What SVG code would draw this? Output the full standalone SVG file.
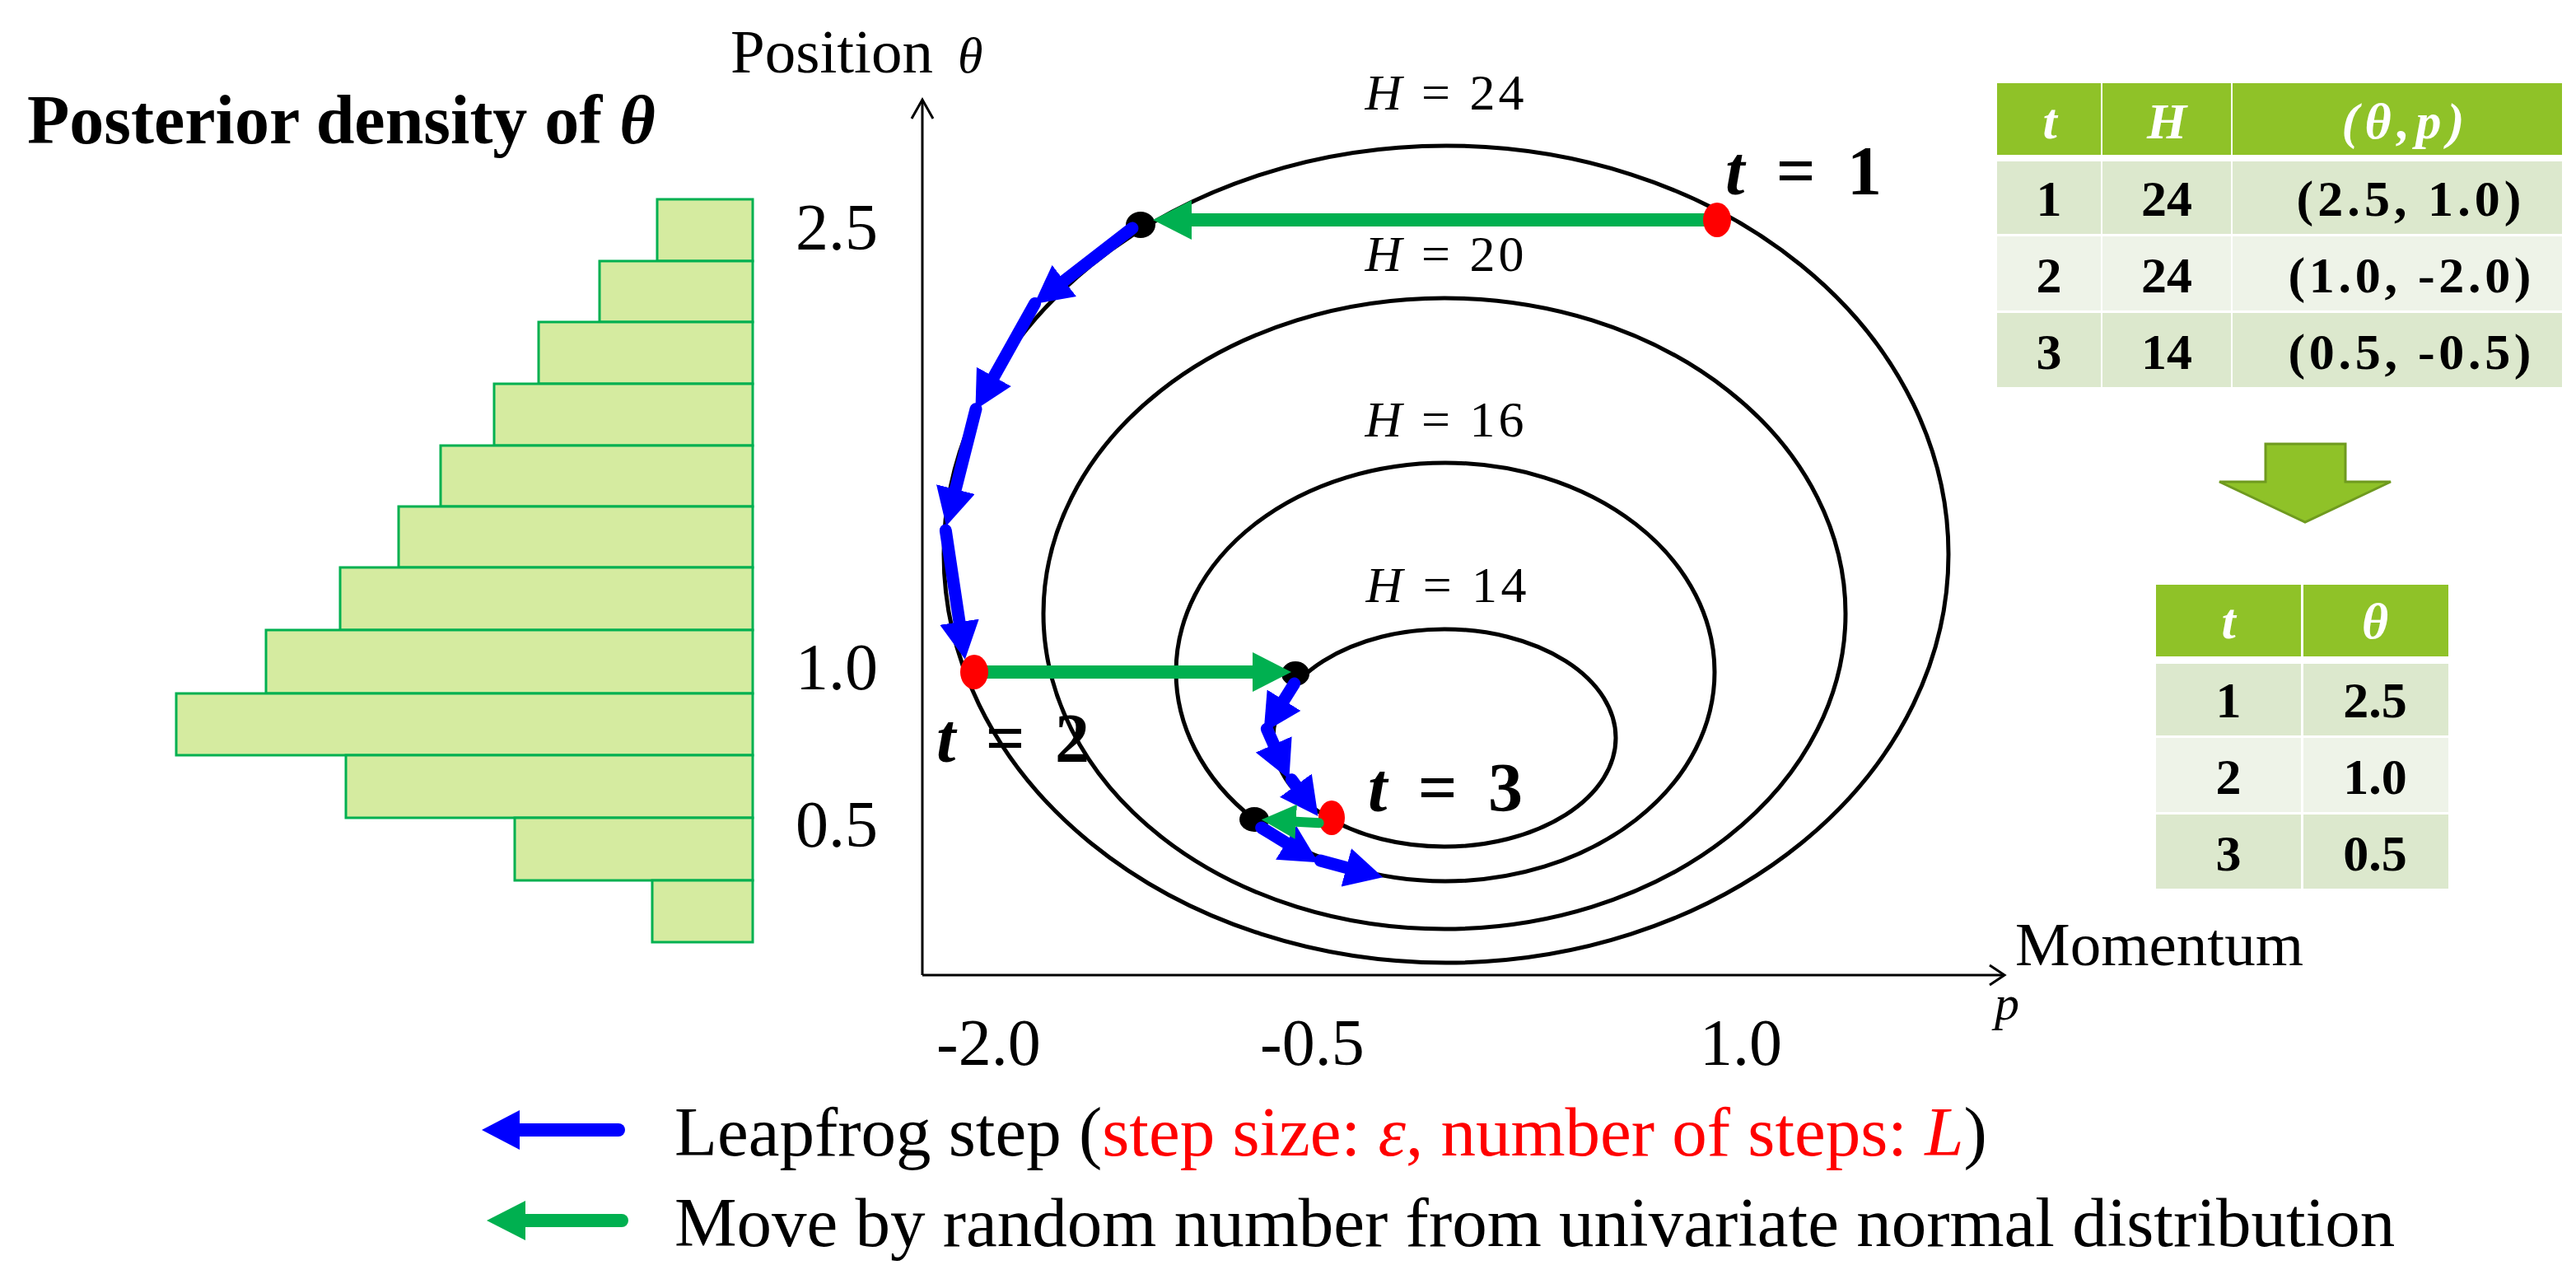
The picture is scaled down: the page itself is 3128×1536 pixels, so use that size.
<svg xmlns="http://www.w3.org/2000/svg" width="3128" height="1536" viewBox="0 0 3128 1536">
<style>
.serif{font-family:"Liberation Serif","Times New Roman",serif;}
.bar{fill:#D5EBA0;stroke:#00B050;stroke-width:3;}
.contour{fill:none;stroke:#000;stroke-width:5;}
.axis{fill:none;stroke:#000;stroke-width:3;}
.tick{font-family:"Liberation Serif",serif;font-size:80px;fill:#000;}
.hlab{font-family:"Liberation Serif",serif;font-size:62px;fill:#000;text-anchor:middle;}
.tlab{font-family:"Liberation Serif",serif;font-size:84px;font-weight:bold;fill:#000;}
.blue{fill:none;stroke:#0000FF;stroke-width:15;stroke-linecap:round;marker-end:url(#headBlue);}
.green{fill:none;stroke:#00B050;stroke-width:16;marker-end:url(#headGreen);}
.hdr{fill:#8FC228;}
.rowA{fill:#DCE8CD;}
.rowB{fill:#EEF3E8;}
.htext{font-family:"Liberation Serif",serif;font-size:62px;font-weight:bold;font-style:italic;fill:#fff;text-anchor:middle;}
.dtext{font-family:"Liberation Serif",serif;font-size:62px;font-weight:bold;fill:#000;text-anchor:middle;}
.legend{font-family:"Liberation Serif",serif;font-size:85px;fill:#000;}
</style>
<defs>
<marker id="headBlue" markerUnits="userSpaceOnUse" markerWidth="46" markerHeight="48" viewBox="0 0 46 48" refX="0" refY="24" orient="auto"><path d="M0,0 L46,24 L0,48 z" fill="#0000FF"/></marker>
<marker id="headGreen" markerUnits="userSpaceOnUse" markerWidth="47" markerHeight="48" viewBox="0 0 47 48" refX="0" refY="24" orient="auto"><path d="M0,0 L47,24 L0,48 z" fill="#00B050"/></marker>
<marker id="headGreenSmall" markerUnits="userSpaceOnUse" markerWidth="42" markerHeight="42" viewBox="0 0 42 42" refX="0" refY="21" orient="auto"><path d="M0,0 L42,21 L0,42 z" fill="#00B050"/></marker>
</defs>
<rect width="3128" height="1536" fill="#fff"/>

<g id="title">
<text class="serif" x="33" y="174" font-size="84" font-weight="bold">Posterior density of <tspan font-style="italic">θ</tspan></text>
</g>

<g id="histogram">
<rect class="bar" x="798" y="242" width="116" height="75"/>
<rect class="bar" x="728" y="317" width="186" height="74"/>
<rect class="bar" x="654" y="391" width="260" height="75"/>
<rect class="bar" x="600" y="466" width="314" height="75"/>
<rect class="bar" x="535" y="541" width="379" height="74"/>
<rect class="bar" x="484" y="615" width="430" height="74"/>
<rect class="bar" x="413" y="689" width="501" height="76"/>
<rect class="bar" x="323" y="765" width="591" height="77"/>
<rect class="bar" x="214" y="842" width="700" height="75"/>
<rect class="bar" x="420" y="917" width="494" height="76"/>
<rect class="bar" x="625" y="993" width="289" height="76"/>
<rect class="bar" x="792" y="1069" width="122" height="75"/>
</g>

<g id="axes">
<path class="axis" d="M1120,1184 L1120,121"/>
<path class="axis" d="M1107,144 L1120,121 L1133,144"/>
<path class="axis" d="M1120,1184 L2434,1184"/>
<path class="axis" d="M2416,1172 L2434,1184 L2416,1196"/>
<text class="serif" x="887" y="88" font-size="75">Position</text>
<text class="serif" x="1163" y="88" font-size="62" font-style="italic">θ</text>
<text class="serif" x="2447" y="1172" font-size="75">Momentum</text>
<text class="serif" x="2422" y="1238" font-size="60" font-style="italic">p</text>
<text class="tick" x="966" y="303">2.5</text>
<text class="tick" x="966" y="837">1.0</text>
<text class="tick" x="966" y="1028">0.5</text>
<text class="tick" x="1137" y="1293">-2.0</text>
<text class="tick" x="1530" y="1293">-0.5</text>
<text class="tick" x="2064" y="1293">1.0</text>
</g>

<g id="contours">
<ellipse class="contour" cx="1756" cy="673" rx="610" ry="496"/>
<ellipse class="contour" cx="1754" cy="745" rx="487" ry="383"/>
<ellipse class="contour" cx="1755" cy="816" rx="327" ry="254"/>
<ellipse class="contour" cx="1754" cy="896" rx="208" ry="132"/>
<text class="hlab" x="1754" y="133" textLength="193" lengthAdjust="spacing"><tspan font-style="italic">H</tspan> = 24</text>
<text class="hlab" x="1754" y="329" textLength="193" lengthAdjust="spacing"><tspan font-style="italic">H</tspan> = 20</text>
<text class="hlab" x="1754" y="530" textLength="193" lengthAdjust="spacing"><tspan font-style="italic">H</tspan> = 16</text>
<text class="hlab" x="1756" y="731" textLength="195" lengthAdjust="spacing"><tspan font-style="italic">H</tspan> = 14</text>
</g>

<g id="black-dots">
<ellipse cx="1385" cy="273" rx="18" ry="16" fill="#000"/>
<ellipse cx="1573" cy="818" rx="17" ry="15" fill="#000"/>
<ellipse cx="1523" cy="995" rx="18" ry="15" fill="#000"/>
</g>

<g id="connectors">
<path class="green" d="M2085,267 L1447,267"/>
<path class="green" d="M1183,816 L1521,816"/>
<path class="blue" d="M1375,277 L1292.3,340.9"/>
<path class="blue" d="M1256.7,368.4 L1206.9,457.4"/>
<path class="blue" d="M1185,496.7 L1160.3,594.1"/>
<path class="blue" d="M1148.3,644 L1165,755.2"/>
<path class="blue" d="M1571.7,830 L1559,850.2"/>
<path class="blue" d="M1538.3,885 L1546.7,903.9"/>
<path class="blue" d="M1568.3,946.7 L1573.4,953.7"/>
<path class="blue" d="M1531.7,1005 L1561.6,1023.3"/>
<path class="blue" d="M1603.3,1045 L1634.8,1053.4"/>
</g>

<g id="red-dots">
<ellipse cx="2085" cy="267" rx="17" ry="21" fill="#FF0000"/>
<ellipse cx="1183" cy="816" rx="17" ry="21" fill="#FF0000"/>
<ellipse cx="1617" cy="993" rx="16" ry="21" fill="#FF0000"/>
</g>
<g id="connector-t3">
<path d="M1601.7,999.3 L1573.7,997.7" fill="none" stroke="#00B050" stroke-width="12" stroke-linecap="round" marker-end="url(#headGreenSmall)"/>
</g>

<g id="t-labels">
<text class="tlab" x="2095" y="236" textLength="190" lengthAdjust="spacing"><tspan font-style="italic">t</tspan> = 1</text>
<text class="tlab" x="1137" y="925" textLength="186" lengthAdjust="spacing"><tspan font-style="italic">t</tspan> = 2</text>
<text class="tlab" x="1661" y="985" textLength="188" lengthAdjust="spacing"><tspan font-style="italic">t</tspan> = 3</text>
</g>

<g id="table1">
<rect class="hdr" x="2425" y="101" width="126" height="87"/>
<rect class="hdr" x="2553" y="101" width="156" height="87"/>
<rect class="hdr" x="2711" y="101" width="400" height="87"/>
<rect class="rowA" x="2425" y="196" width="126" height="88"/>
<rect class="rowA" x="2553" y="196" width="156" height="88"/>
<rect class="rowA" x="2711" y="196" width="400" height="88"/>
<rect class="rowB" x="2425" y="287" width="126" height="90"/>
<rect class="rowB" x="2553" y="287" width="156" height="90"/>
<rect class="rowB" x="2711" y="287" width="400" height="90"/>
<rect class="rowA" x="2425" y="380" width="126" height="90"/>
<rect class="rowA" x="2553" y="380" width="156" height="90"/>
<rect class="rowA" x="2711" y="380" width="400" height="90"/>
<text class="htext" x="2489" y="168">t</text>
<text class="htext" x="2631" y="168">H</text>
<text class="htext" x="2918" y="168" textLength="149" lengthAdjust="spacing">(θ,p)</text>
<text class="dtext" x="2488" y="262">1</text>
<text class="dtext" x="2631" y="262">24</text>
<text class="dtext" x="2925" y="262" textLength="273" lengthAdjust="spacing">(2.5,  1.0)</text>
<text class="dtext" x="2488" y="355">2</text>
<text class="dtext" x="2631" y="355">24</text>
<text class="dtext" x="2926" y="355" textLength="295" lengthAdjust="spacing">(1.0,  -2.0)</text>
<text class="dtext" x="2488" y="448">3</text>
<text class="dtext" x="2631" y="448">14</text>
<text class="dtext" x="2926" y="448" textLength="295" lengthAdjust="spacing">(0.5,  -0.5)</text>
</g>

<g id="down-arrow">
<polygon points="2751,539 2848,539 2848,585 2903,585 2799,634 2695,585 2751,585" fill="#8FC228" stroke="#6F9A1F" stroke-width="3"/>
</g>

<g id="table2">
<rect class="hdr" x="2618" y="710" width="176" height="87"/>
<rect class="hdr" x="2797" y="710" width="176" height="87"/>
<rect class="rowA" x="2618" y="806" width="176" height="87"/>
<rect class="rowA" x="2797" y="806" width="176" height="87"/>
<rect class="rowB" x="2618" y="896" width="176" height="90"/>
<rect class="rowB" x="2797" y="896" width="176" height="90"/>
<rect class="rowA" x="2618" y="989" width="176" height="90"/>
<rect class="rowA" x="2797" y="989" width="176" height="90"/>
<text class="htext" x="2706" y="775">t</text>
<text class="htext" x="2884" y="775">θ</text>
<text class="dtext" x="2706" y="871">1</text>
<text class="dtext" x="2884" y="871">2.5</text>
<text class="dtext" x="2706" y="964">2</text>
<text class="dtext" x="2884" y="964">1.0</text>
<text class="dtext" x="2706" y="1057">3</text>
<text class="dtext" x="2884" y="1057">0.5</text>
</g>

<g id="legend">
<path d="M751,1372 L631,1372" fill="none" stroke="#0000FF" stroke-width="16" stroke-linecap="round" marker-end="url(#headBlue)"/>
<path d="M755,1482 L638,1482" fill="none" stroke="#00B050" stroke-width="16" stroke-linecap="round" marker-end="url(#headGreen)"/>
<text class="legend" x="819" y="1403">Leapfrog step (<tspan fill="#FF0000">step size: <tspan font-style="italic">ε</tspan>, number of steps: <tspan font-style="italic">L</tspan></tspan>)</text>
<text class="legend" x="819" y="1513">Move by random number from univariate normal distribution</text>
</g>
</svg>
